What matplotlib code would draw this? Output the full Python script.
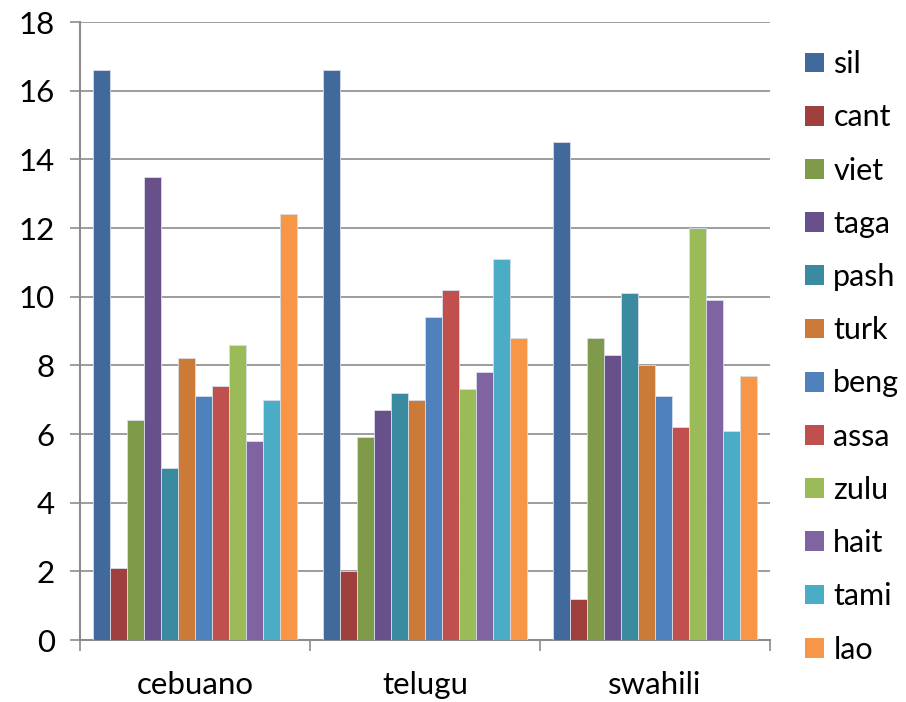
import matplotlib
matplotlib.use("Agg")
import matplotlib.pyplot as plt
from matplotlib.patches import Patch
import numpy as np

categories = ["cebuano", "telugu", "swahili"]
series_names = ["sil", "cant", "viet", "taga", "pash", "turk",
                "beng", "assa", "zulu", "hait", "tami", "lao"]
sil = [16.6, 16.6, 14.5]
cant = [2.1, 2.0, 1.2]
viet = [6.4, 5.9, 8.8]
taga = [13.5, 6.7, 8.3]
pash = [5.0, 7.2, 10.1]
turk = [8.2, 7.0, 8.0]
beng = [7.1, 9.4, 7.1]
assa = [7.4, 10.2, 6.2]
zulu = [8.6, 7.3, 12.0]
hait = [5.8, 7.8, 9.9]
tami = [7.0, 11.1, 6.1]
lao = [12.4, 8.8, 7.7]
y_ticks = [0, 2, 4, 6, 8, 10, 12, 14, 16, 18]

values = [sil, cant, viet, taga, pash, turk, beng, assa, zulu, hait, tami, lao]
colors = ["#41699B", "#A0403E", "#7F9A48", "#68518A", "#3A8BA0", "#CC7A37",
          "#4F81BD", "#C0504D", "#9BBB59", "#8064A2", "#4BACC6", "#F79646"]

plt.rcParams["font.family"] = ["Lato", "DejaVu Sans"]

fig = plt.figure(figsize=(9.06, 7.02), dpi=100)
ax = fig.add_axes([80 / 906, 62 / 702, 690 / 906, 618 / 702])

n = len(series_names)
width = 17 / 230
x = np.arange(len(categories))
for i, (name, vals, c) in enumerate(zip(series_names, values, colors)):
    offs = (i - (n - 1) / 2) * width
    ax.bar(x + offs, vals, width=width, color=c, edgecolor="#D8DEE8",
           linewidth=0.6, label=name, zorder=3)

ax.set_xlim(-0.5, len(categories) - 0.5)
ax.set_ylim(0, 18)
ax.set_yticks(y_ticks)
ax.set_yticklabels([str(t) for t in y_ticks])
ax.yaxis.grid(True, color="#8C8C8C", linewidth=1.2, zorder=0)
ax.set_axisbelow(True)

for s in ["top", "right"]:
    ax.spines[s].set_visible(False)
for s in ["left", "bottom"]:
    ax.spines[s].set_color("#8C8C8C")
    ax.spines[s].set_linewidth(1.5)

ax.tick_params(axis="y", length=7, width=1.2, color="#8C8C8C",
               labelsize=22.5, pad=11, labelcolor="black")
ax.set_xticks(x)
ax.set_xticklabels(categories)
ax.set_xticks(np.arange(-0.5, len(categories)), minor=True)
ax.tick_params(axis="x", which="major", length=0, labelsize=22.5, pad=22)
ax.tick_params(axis="x", which="minor", length=8, width=1.2, color="#8C8C8C")

handles = [Patch(facecolor=c, edgecolor="none") for c in colors]
fig.legend(handles, series_names, loc="upper left",
           bbox_to_anchor=(793 / 906, 1 - 38 / 702), frameon=False,
           fontsize=22, handlelength=0.62, handleheight=0.62,
           handletextpad=0.3, labelspacing=0.825, borderaxespad=0)

fig.savefig("out.png", dpi=100)
